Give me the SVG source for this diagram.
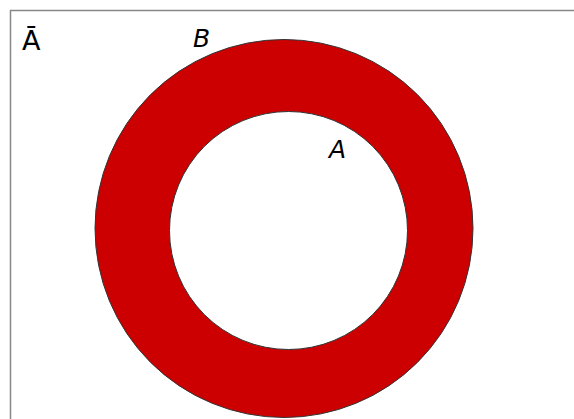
<svg xmlns="http://www.w3.org/2000/svg" width="574" height="419" viewBox="0 0 574 419">
<style>
.lbl{font-family:"DejaVu Sans",sans-serif;font-size:25px;fill:#000}
.it{font-style:italic}
.ring{stroke:#333;stroke-width:1}
</style>
<rect width="574" height="419" fill="#fff"/>
<path d="M10.5 419 V10.5 H574" fill="none" stroke="#888" stroke-width="1.5"/>
<g id="B">
<circle class="ring" cx="284" cy="228.5" r="189" fill="#cc0000"/>
<text class="lbl it" x="193" y="47">B</text>
</g>
<g id="A">
<circle class="ring" cx="288.5" cy="230.5" r="119" fill="#fff"/>
<text class="lbl it" x="329" y="158">A</text>
</g>
<g id="Abar">
<text class="lbl" x="22" y="50" style="font-size:27px">Ā</text>
</g>
<g id="connectors"/>
</svg>
